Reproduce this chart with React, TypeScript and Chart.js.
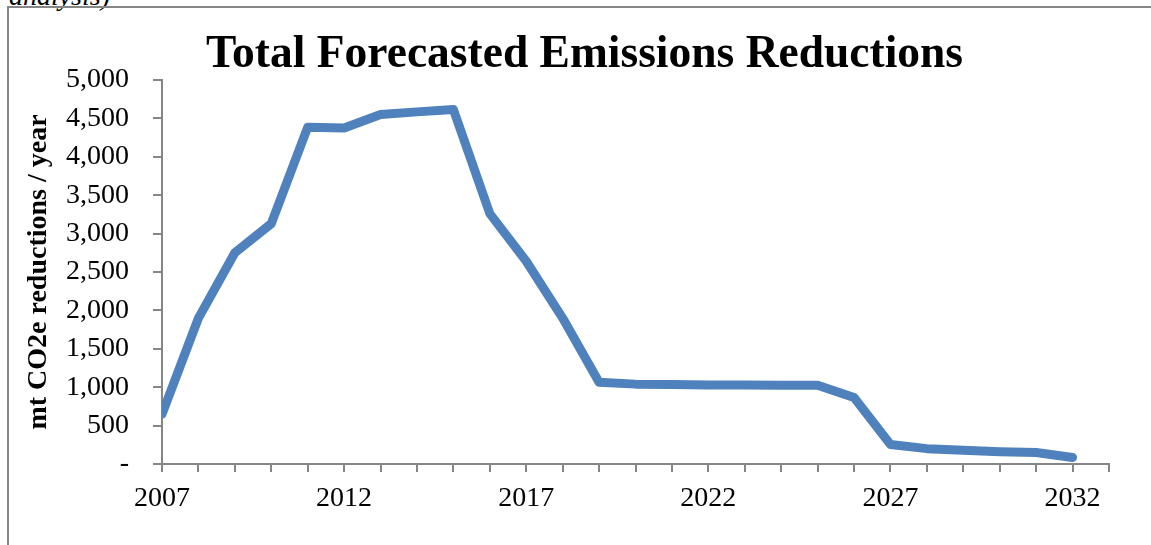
import React, { useEffect, useRef } from "react";
import { Chart, registerables } from "chart.js";

Chart.register(...registerables);

// Yearly forecast of CO2e reductions (metric tons per year)
const YEARS = [
  2007, 2008, 2009, 2010, 2011, 2012, 2013, 2014, 2015, 2016, 2017, 2018, 2019,
  2020, 2021, 2022, 2023, 2024, 2025, 2026, 2027, 2028, 2029, 2030, 2031, 2032,
];
const REDUCTIONS = [
  650, 1900, 2750, 3130, 4385, 4375, 4550, 4585, 4615, 3260, 2640, 1900, 1065,
  1040, 1035, 1030, 1028, 1026, 1025, 865, 255, 200, 180, 160, 150, 85,
];
const X_MIN = 2007;
const X_MAX = 2033;
const LABELED_YEARS = [2007, 2012, 2017, 2022, 2027, 2032];
const Y_TICKS = [0, 500, 1000, 1500, 2000, 2500, 3000, 3500, 4000, 4500, 5000];

const TITLE = "Total Forecasted Emissions Reductions";
const Y_TITLE = "mt CO2e reductions / year";
const CAPTION_TAIL = "analysis)";

const SERIF = "'Liberation Serif', 'Times New Roman', serif";
const AXIS_GRAY = "#868686";
const LINE_BLUE = "#4F81BD";

const PAD_LEFT = 60;
const Y_AXIS_WIDTH = 102;
const Y_TITLE_SIZE = 28;
const Y_TITLE_CENTER_X = 42;
const TITLE_SIZE = 45.5;
const TITLE_SHIFT = 3;

export default function App() {
  const canvasRef = useRef<HTMLCanvasElement | null>(null);

  useEffect(() => {
    const canvas = canvasRef.current;
    if (!canvas) return;
    const chart = new Chart(canvas, {
      type: "line",
      data: {
        datasets: [
          {
            data: YEARS.map((x, i) => ({ x, y: REDUCTIONS[i] })),
            borderColor: LINE_BLUE,
            backgroundColor: LINE_BLUE,
            borderWidth: 9,
            pointRadius: 0,
            pointHoverRadius: 0,
            tension: 0,
            borderJoinStyle: "round",
            borderCapStyle: "round",
            clip: { left: 0, top: 10, right: 10, bottom: 10 },
          },
        ],
      },
      options: {
        animation: false,
        responsive: false,
        maintainAspectRatio: false,
        events: [],
        layout: { padding: { left: PAD_LEFT, right: 42, top: 0, bottom: 0 } },
        plugins: {
          legend: { display: false },
          tooltip: { enabled: false },
          title: {
            display: true,
            text: TITLE,
            color: "#000",
            font: { family: SERIF, size: TITLE_SIZE, weight: "bold", lineHeight: 1.2 },
            padding: {
              top: 80 - TITLE_SIZE * 1.2 + TITLE_SHIFT,
              bottom: -TITLE_SHIFT,
            },
          },
        },
        scales: {
          x: {
            type: "linear",
            min: X_MIN,
            max: X_MAX,
            afterBuildTicks: (scale: any) => {
              const ticks = [];
              for (let v = X_MIN; v <= X_MAX; v++) ticks.push({ value: v });
              scale.ticks = ticks;
            },
            afterFit: (scale: any) => {
              scale.height = 81;
            },
            ticks: {
              autoSkip: false,
              maxRotation: 0,
              minRotation: 0,
              padding: 10,
              color: "#000",
              font: { family: SERIF, size: 28 },
              callback: (v: any) =>
                LABELED_YEARS.includes(Number(v)) ? String(v) : "",
            },
            grid: {
              drawOnChartArea: false,
              drawTicks: true,
              tickLength: 8,
              color: AXIS_GRAY,
              lineWidth: 2,
            },
            border: { display: true, color: AXIS_GRAY, width: 2 },
          },
          y: {
            min: 0,
            max: 5000,
            afterBuildTicks: (scale: any) => {
              scale.ticks = Y_TICKS.map((v) => ({ value: v }));
            },
            afterFit: (scale: any) => {
              scale.width = Y_AXIS_WIDTH;
            },
            ticks: {
              padding: 24,
              color: "#000",
              font: { family: SERIF, size: 28 },
              callback: (v: any) =>
                Number(v) === 0 ? "-" : Number(v).toLocaleString("en-US"),
            },
            grid: {
              drawOnChartArea: false,
              drawTicks: true,
              tickLength: 9,
              color: AXIS_GRAY,
              lineWidth: 2,
            },
            border: { display: true, color: AXIS_GRAY, width: 2 },
            title: {
              display: true,
              text: Y_TITLE,
              color: "#000",
              font: { family: SERIF, size: Y_TITLE_SIZE, weight: "bold", lineHeight: 1.2 },
              // the title sits left of the axis box, so its offset is negative
              padding: {
                top: Y_TITLE_CENTER_X - PAD_LEFT - 3 - (Y_TITLE_SIZE * 1.2) / 2,
                bottom: 0,
              },
            },
          },
        },
      },
    });
    return () => chart.destroy();
  }, []);

  return (
    <div
      style={{
        position: "fixed",
        left: 0,
        top: 0,
        width: 1151,
        height: 545,
        overflow: "hidden",
        background: "#fff",
      }}
    >
      <div
        style={{
          position: "absolute",
          left: 0,
          top: -18,
          width: 110,
          textAlign: "right",
          fontFamily: SERIF,
          fontStyle: "italic",
          fontSize: 28,
          lineHeight: "28px",
          whiteSpace: "nowrap",
          color: "#000",
        }}
      >
        {CAPTION_TAIL}
      </div>
      <div
        style={{
          position: "absolute",
          left: 7,
          top: 6,
          width: 1300,
          height: 700,
          borderLeft: `2px solid ${AXIS_GRAY}`,
          borderTop: `2px solid ${AXIS_GRAY}`,
        }}
      />
      <canvas
        ref={canvasRef}
        width={1151}
        height={545}
        style={{ position: "absolute", left: 0, top: 0, display: "block" }}
      />
    </div>
  );
}
